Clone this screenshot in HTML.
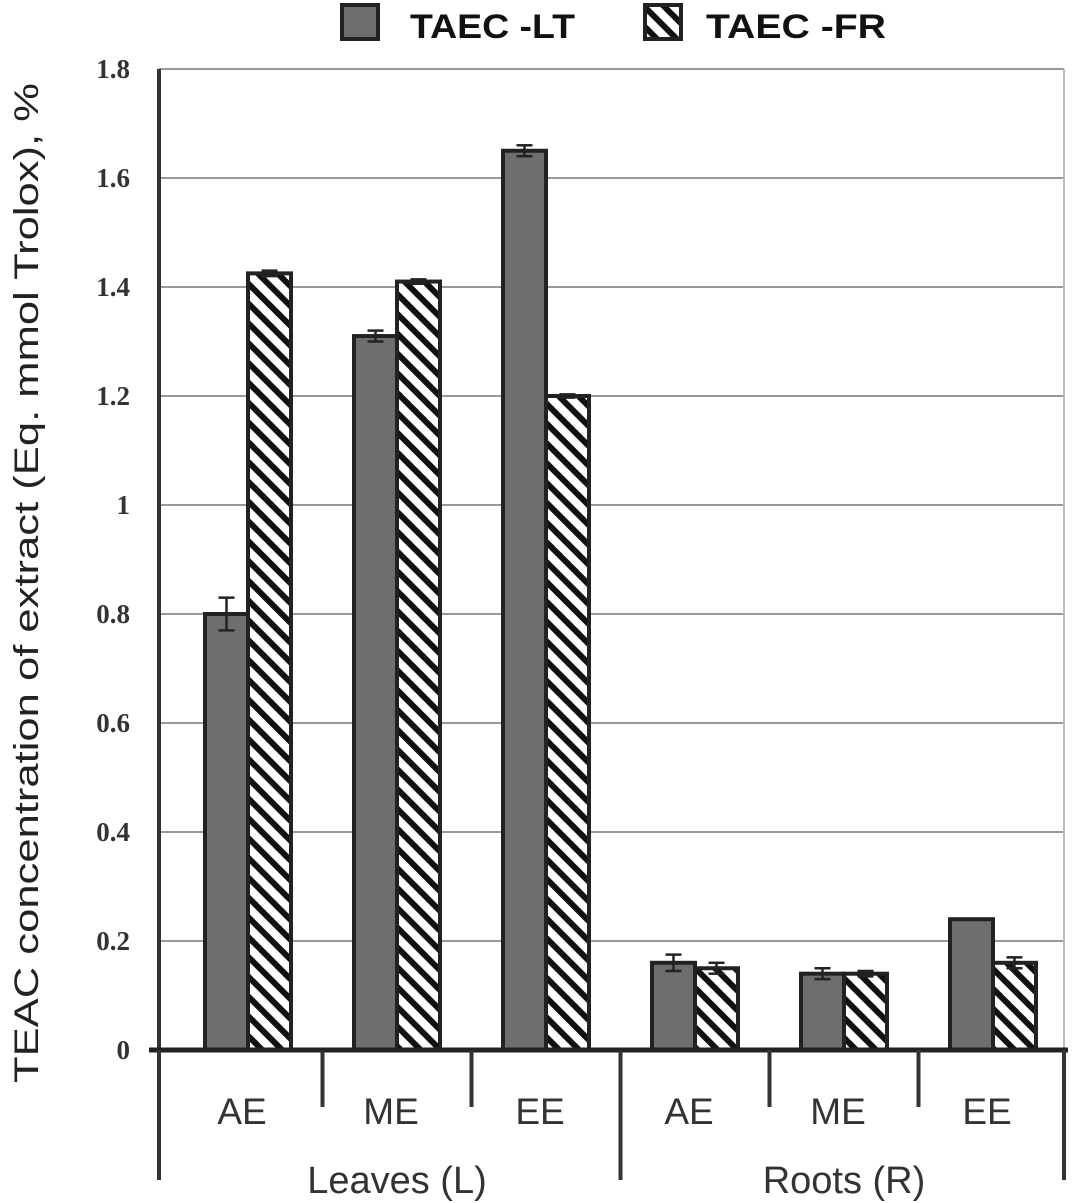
<!DOCTYPE html>
<html><head><meta charset="utf-8"><style>
html,body{margin:0;padding:0;background:#fff}
svg{display:block}
</style></head><body>
<svg id="chart" width="1075" height="1203">
<defs>
<pattern id="hatch" patternUnits="userSpaceOnUse" width="14" height="14" patternTransform="rotate(-45)">
<rect width="14" height="14" fill="#fff"/><rect width="6" height="14" fill="#111"/>
</pattern>
</defs>
<g id="grid"></g>
<g id="bars"></g>
<g id="axes"></g>
<text x="38" y="583" transform="rotate(-90 38 583)" text-anchor="middle" textLength="1000" lengthAdjust="spacingAndGlyphs" font-family="Liberation Sans, sans-serif" font-size="34" fill="#222">TEAC concentration of extract  (Eq. mmol Trolox), %</text>
<g>
<rect x="342" y="5" width="36" height="34" fill="#6e6e6e" stroke="#222" stroke-width="4"/>
<text x="410" y="38" textLength="165" lengthAdjust="spacingAndGlyphs" font-family="Liberation Sans, sans-serif" font-weight="bold" font-size="34" fill="#111">TAEC -LT</text>
<rect x="645" y="5" width="36" height="34" fill="url(#hatch)" stroke="#222" stroke-width="4"/>
<text x="706" y="38" textLength="180" lengthAdjust="spacingAndGlyphs" font-family="Liberation Sans, sans-serif" font-weight="bold" font-size="34" fill="#111">TAEC -FR</text>
</g>
</svg>
<script>
const categories = ["AE","ME","EE","AE","ME","EE"];
const groups = ["Leaves (L)","Roots (R)"];
const ltValues = [0.80,1.31,1.65,0.16,0.14,0.24];
const frValues = [1.425,1.41,1.20,0.15,0.14,0.16];
const ltErrors = [0.03,0.01,0.01,0.015,0.01,0];
const frErrors = [0.005,0.004,0.003,0.01,0.005,0.01];
const yTicks = [0,0.2,0.4,0.6,0.8,1,1.2,1.4,1.6,1.8];
const yTickLabels = ["0","0.2","0.4","0.6","0.8","1","1.2","1.4","1.6","1.8"];

const NS="http://www.w3.org/2000/svg";
const X0=159,X1=1064,Y0=1050,YTOP=69,YMAX=1.8;
const y=v=>Y0-(v/YMAX)*(Y0-YTOP);
const FIRST=248,STEP=149;
const xc=i=>FIRST+STEP*i;
const BW=43;
function mk(tag,attrs,parent){const e=document.createElementNS(NS,tag);for(const k in attrs)e.setAttribute(k,attrs[k]);parent.appendChild(e);return e;}
const grid=document.getElementById('grid'),bars=document.getElementById('bars'),axes=document.getElementById('axes');
yTicks.forEach((t,i)=>{
  if(t>0){const l=mk('line',{x1:X0,x2:X1,y1:y(t),y2:y(t),stroke:'#999','stroke-width':2},grid);
  
  }
  const tx=mk('text',{x:130,y:y(t)+9,'text-anchor':'end','font-family':'Liberation Serif, serif','font-weight':'bold','font-size':27,fill:'#333'},axes);
  tx.textContent=yTickLabels[i];
  
  
});
mk('line',{x1:X1,x2:X1,y1:YTOP,y2:Y0,stroke:'#bbb','stroke-width':2},grid);
function errBar(cx,v,e){
  if(e<=0)return;
  const g=mk('g',{stroke:'#222','stroke-width':2.5},bars);
  
  
  mk('line',{x1:cx,x2:cx,y1:y(v+e),y2:y(v-e)},g);
  mk('line',{x1:cx-8,x2:cx+8,y1:y(v+e),y2:y(v+e)},g);
  mk('line',{x1:cx-8,x2:cx+8,y1:y(v-e),y2:y(v-e)},g);
}
categories.forEach((c,i)=>{
  const cx=xc(i);
  const r1=mk('rect',{x:cx-BW,y:y(ltValues[i]),width:BW,height:Y0-y(ltValues[i]),fill:'#6e6e6e',stroke:'#222','stroke-width':4},bars);
  
  
  const r2=mk('rect',{x:cx,y:y(frValues[i]),width:BW,height:Y0-y(frValues[i]),fill:'url(#hatch)',stroke:'#222','stroke-width':4},bars);
  
  
  errBar(cx-BW/2,ltValues[i],ltErrors[i]);
  errBar(cx+BW/2,frValues[i],frErrors[i]);
  const t=mk('text',{x:cx-6,y:1124,'text-anchor':'middle','font-family':'Liberation Sans, sans-serif','font-size':37,fill:'#333'},axes);
  t.textContent=c;
  
  
});
mk('line',{x1:X0,x2:X0,y1:YTOP,y2:Y0,stroke:'#333','stroke-width':4},axes);
mk('line',{x1:X0-10,x2:X1+4,y1:Y0,y2:Y0,stroke:'#222','stroke-width':5},axes);
for(let i=0;i<=categories.length;i++){
  const x=i===0?X0:(i===categories.length?X1:(xc(i-1)+xc(i))/2);
  const long=(i%3===0);
  mk('line',{x1:x,x2:x,y1:Y0,y2:long?1180:1107,stroke:'#333','stroke-width':4},axes);
}
groups.forEach((g,j)=>{
  const t=mk('text',{x:xc(3*j+1),y:1193,'text-anchor':'middle','font-family':'Liberation Sans, sans-serif','font-size':38,fill:'#333'},axes);
  t.textContent=g;
  
  
});
</script>
</body></html>
